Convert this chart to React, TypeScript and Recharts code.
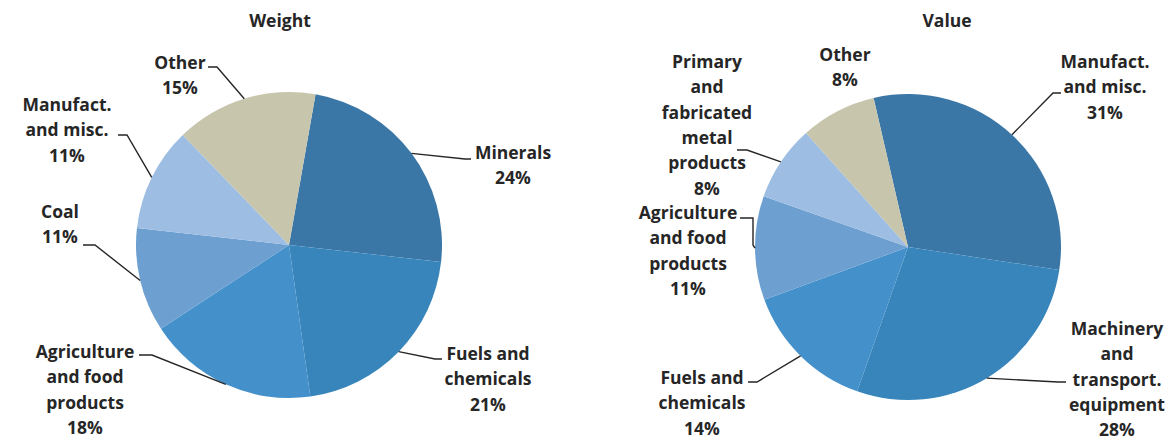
import { Cell, Pie, PieChart } from "recharts";

const WEIGHT_CATEGORIES = [
  "Minerals",
  "Fuels and\nchemicals",
  "Agriculture\nand food\nproducts",
  "Coal",
  "Manufact.\nand misc.",
  "Other"
];
const WEIGHT_SHARES = [24, 21, 18, 11, 11, 15];

const VALUE_CATEGORIES = [
  "Manufact.\nand misc.",
  "Machinery\nand\ntransport.\nequipment",
  "Fuels and\nchemicals",
  "Agriculture\nand food\nproducts",
  "Primary\nand\nfabricated\nmetal\nproducts",
  "Other"
];
const VALUE_SHARES = [31, 28, 14, 11, 8, 8];

const SLICE_COLORS = ["#3a77a7", "#3885bb", "#4390cb", "#6da0d1", "#9dbde2", "#c8c5ad"];
const INK = "#262626";
const FONT = "'Open Sans', 'DejaVu Sans', sans-serif";
const FONT_SIZE = 17.5;
const LINE_H = 25.3;
const RAD = Math.PI / 180;

// label centre (first line) + leader elbow points, relative to the pie centre
type Callout = { tx: number; ty: number; path: [number, number][] };

const WEIGHT_CALLOUTS: Callout[] = [
  { tx: 224, ty: -92, path: [[176, -86], [182, -86]] },
  { tx: 199, ty: 109, path: [[146, 114], [153, 114]] },
  { tx: -204, ty: 107, path: [[-137, 110], [-150, 110]] },
  { tx: -229, ty: -33, path: [[-194, 0], [-206, 0]] },
  { tx: -222, ty: -140, path: [[-162, -110], [-171, -110]] },
  { tx: -109, ty: -182, path: [[-72, -178], [-81, -178]] }
];

const VALUE_CALLOUTS: Callout[] = [
  { tx: 197, ty: -185, path: [[145, -154], [153, -154]] },
  { tx: 209, ty: 82, path: [[150, 135], [158, 135]] },
  { tx: -206, ty: 131, path: [[-151, 135], [-160, 135]] },
  { tx: -220, ty: -34, path: [[-155, -2], [-155, -29], [-168, -29]] },
  { tx: -201, ty: -185, path: [[-161, -97], [-171, -97]] },
  { tx: -63, ty: -192, path: [] }
];

function makeLabel(categories: string[], shares: number[], callouts: Callout[]) {
  return (props: any) => {
    const { cx, cy, midAngle, outerRadius, index } = props;
    const c = callouts[index];
    const ex = cx + outerRadius * Math.cos(-midAngle * RAD);
    const ey = cy + outerRadius * Math.sin(-midAngle * RAD);
    const pts = [[ex, ey], ...c.path.map(([x, y]) => [cx + x, cy + y])];
    const lines = [...categories[index].split("\n"), `${shares[index]}%`];
    const x = cx + c.tx;
    return (
      <g>
        {c.path.length ? (
          <polyline
            points={pts.map((p) => p.join(",")).join(" ")}
            fill="none"
            stroke={INK}
            strokeWidth={1.4}
          />
        ) : null}
        <text
          x={x}
          y={cy + c.ty + 6}
          textAnchor="middle"
          fill={INK}
          fontFamily={FONT}
          fontWeight={700}
          fontSize={FONT_SIZE}
        >
          {lines.map((l, i) => (
            <tspan key={i} x={x} dy={i ? LINE_H : 0}>
              {l}
            </tspan>
          ))}
        </text>
      </g>
    );
  };
}

const weightData = WEIGHT_CATEGORIES.map((name, i) => ({ name, share: WEIGHT_SHARES[i] }));
const valueData = VALUE_CATEGORIES.map((name, i) => ({ name, share: VALUE_SHARES[i] }));

const titleStyle = {
  position: "absolute" as const,
  top: 8,
  width: 200,
  lineHeight: "24px",
  textAlign: "center" as const,
  fontFamily: FONT,
  fontWeight: 700,
  fontSize: 17.5,
  color: INK
};

export default function App() {
  return (
    <div style={{ position: "absolute", left: 0, top: 0, width: 1167, height: 440, background: "#fff" }}>
      <PieChart width={1167} height={440}>
        <Pie
          data={weightData}
          dataKey="share"
          nameKey="name"
          cx={284}
          cy={240}
          outerRadius={153}
          startAngle={80}
          endAngle={-280}
          stroke="none"
          label={makeLabel(WEIGHT_CATEGORIES, WEIGHT_SHARES, WEIGHT_CALLOUTS)}
          labelLine={false}
          isAnimationActive={false}
        >
          {weightData.map((d, i) => (
            <Cell key={d.name} fill={SLICE_COLORS[i]} />
          ))}
        </Pie>
        <Pie
          data={valueData}
          dataKey="share"
          nameKey="name"
          cx={903}
          cy={242}
          outerRadius={153}
          startAngle={103}
          endAngle={-257}
          stroke="none"
          label={makeLabel(VALUE_CATEGORIES, VALUE_SHARES, VALUE_CALLOUTS)}
          labelLine={false}
          isAnimationActive={false}
        >
          {valueData.map((d, i) => (
            <Cell key={d.name} fill={SLICE_COLORS[i]} />
          ))}
        </Pie>
      </PieChart>
      <div style={{ ...titleStyle, left: 180 }}>Weight</div>
      <div style={{ ...titleStyle, left: 847 }}>Value</div>
    </div>
  );
}
